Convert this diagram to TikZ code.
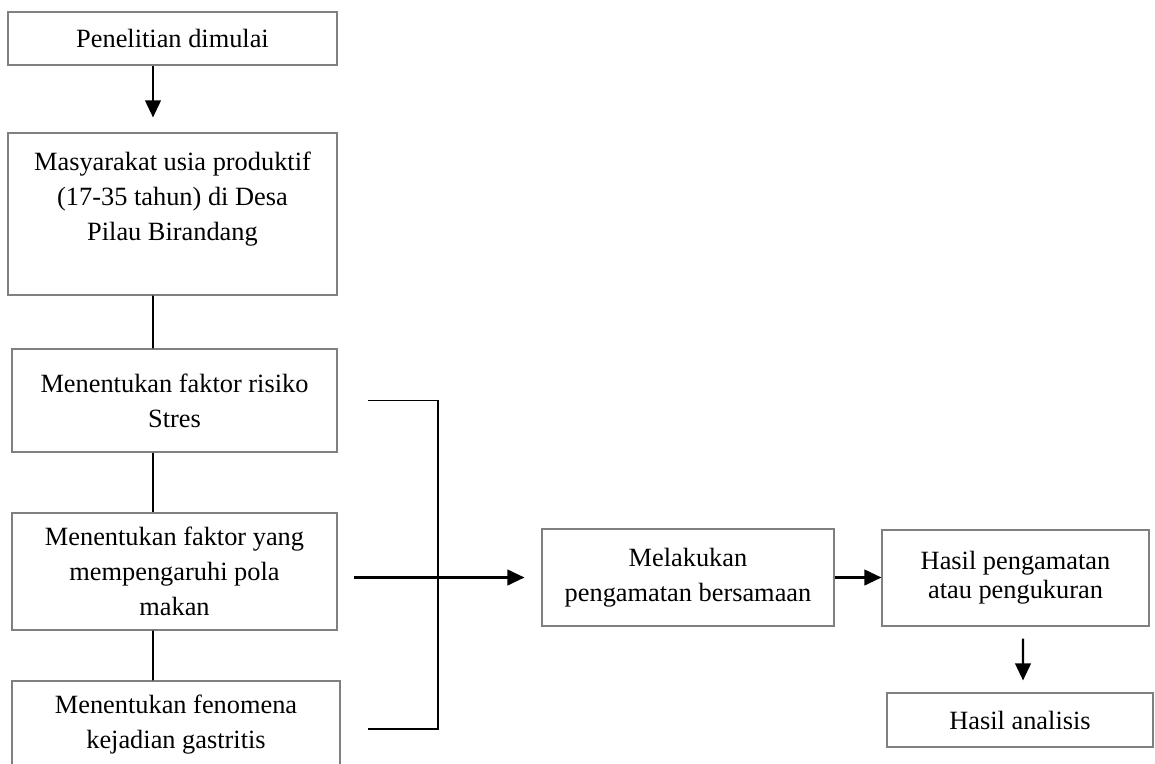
\documentclass[tikz,border=0pt]{standalone}
\usepackage{fontspec}
\setmainfont{Liberation Serif}
\usetikzlibrary{arrows.meta,calc}

\begin{document}
\begin{tikzpicture}[font=\fontsize{15}{19.9}\selectfont,
  box/.style={draw=black!50, line width=0.6pt, align=center, inner sep=0pt},
  arr/.style={line width=1.3pt, -{Triangle[length=0.34cm, width=0.31cm]}},
  link/.style={line width=0.9pt}]
  \useasboundingbox (0, 0) rectangle (23.1, 15.26);

  % Left column: start and population
  \node[box, minimum width=6.58cm, minimum height=1.06cm] (start) at (3.45, 14.49) {Penelitian dimulai};
  \node[box, minimum width=6.58cm, minimum height=3.24cm] (pop) at (3.45, 10.98) {Masyarakat usia produktif\\(17-35 tahun) di Desa\\Pilau Birandang\\ \mbox{}};

  % Left column: the three factors
  \node[box, minimum width=6.50cm, minimum height=2.06cm] (stres) at (3.49, 7.25) {Menentukan faktor risiko\\Stres};
  \node[box, minimum width=6.50cm, minimum height=2.34cm] (pola) at (3.49, 3.83) {Menentukan faktor yang\\mempengaruhi pola\\makan};
  \node[box, minimum width=6.56cm, minimum height=1.76cm] (gastritis) at (3.52, 0.76) {Menentukan fenomena\\kejadian gastritis};

  % Right side: observation and results
  \node[box, minimum width=5.84cm, minimum height=1.94cm] (amati) at (13.76, 3.71) {Melakukan\\pengamatan bersamaan};
  \node[box, minimum width=5.34cm, minimum height=1.92cm, font=\fontsize{15}{16.5}\selectfont] (hasil) at (20.31, 3.70) {Hasil pengamatan\\atau pengukuran};
  \node[box, minimum width=5.32cm, minimum height=1.08cm] (analisis) at (20.40, 0.86) {Hasil analisis};

  % Stem of the left column
  \draw[arr] ([xshift=-0.39cm]start.south) -- ([xshift=-0.39cm, yshift=0.3cm]pop.north);
  \draw[link] ([xshift=-0.39cm]pop.south) -- ([xshift=-0.43cm]stres.north);
  \draw[link] ([xshift=-0.43cm]stres.south) -- ([xshift=-0.43cm]pola.north);
  \draw[link] ([xshift=-0.43cm]pola.south) -- ([xshift=-0.46cm]gastritis.north);

  % Bracket and arrows to the right
  \draw[link, line width=1.1pt] ([xshift=0.6cm]stres.east) -- ++(1.4, 0) |- ([xshift=0.54cm, yshift=-0.08cm]gastritis.east);
  \draw[arr, line width=1.4pt] ($(pola.east |- amati.west)+(0.32, 0)$) -- ([xshift=-0.34cm]amati.west);
  \draw[arr, line width=1.4pt] (amati.east) -- (amati.east -| hasil.west);
  \draw[arr] ([xshift=0.15cm, yshift=-0.24cm]hasil.south) -- ([xshift=0.06cm, yshift=0.24cm]analisis.north);
\end{tikzpicture}
\end{document}
